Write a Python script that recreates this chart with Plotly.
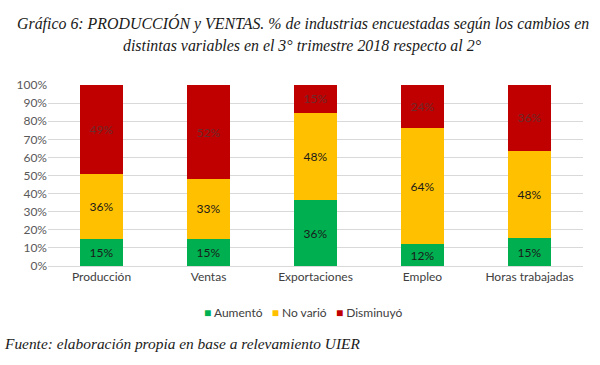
import plotly.graph_objects as go

categories = ["Producción", "Ventas", "Exportaciones", "Empleo", "Horas trabajadas"]
aumento = [15, 15, 36.4, 12, 15.3]
no_vario = [36, 33, 48.4, 64, 48.4]
disminuyo = [49, 52, 15.2, 24, 36.3]
y_ticks = [0, 10, 20, 30, 40, 50, 60, 70, 80, 90, 100]

series = [
    ("Aumentó", aumento, "#00B050", "#1a1a1a"),
    ("No varió", no_vario, "#FFC000", "#1a1a1a"),
    ("Disminuyó", disminuyo, "#C00000", "#6e2a2a"),
]

fig = go.Figure()
for name, vals, color, tcol in series:
    fig.add_trace(go.Bar(
        x=categories, y=vals, name=name,
        marker=dict(color=color, line=dict(width=0)),
        texttemplate="%{y:.0f}%", textposition="inside",
        insidetextanchor="middle",
        textfont=dict(family="Lato, sans-serif", size=12, color=tcol),
        hoverinfo="skip", showlegend=False,
    ))

fig.update_layout(
    barmode="stack", bargap=0.607,
    width=600, height=365,
    margin=dict(l=48, r=17, t=85, b=99),
    paper_bgcolor="white", plot_bgcolor="white",
    showlegend=False,
    font=dict(family="Lato, sans-serif", color="#595959"),
    uniformtext=dict(minsize=8, mode="show"),
)
fig.update_yaxes(range=[0, 100], tickvals=y_ticks, ticktext=[f"{v}%" for v in y_ticks],
                 showgrid=True, gridcolor="#D9D9D9", gridwidth=1, zeroline=False,
                 tickfont=dict(family="Lato, sans-serif", size=12, color="#595959"), ticks="", ticklen=0)
fig.update_xaxes(showline=True, linecolor="#D9D9D9",
                 tickfont=dict(family="Lato, sans-serif", size=12, color="#404040"))

title_x = (302.5 - 48) / 535
fig.add_annotation(text="<i>Gráfico 6: PRODUCCIÓN y VENTAS. % de industrias encuestadas según los cambios en</i>",
                   xref="paper", yref="paper", x=title_x, y=1, xanchor="center", yanchor="middle",
                   yshift=62, showarrow=False,
                   font=dict(family="Liberation Serif, serif", size=15.9, color="#1a1a1a"))
fig.add_annotation(text="<i>distintas variables en el 3° trimestre 2018 respecto al 2°</i>",
                   xref="paper", yref="paper", x=title_x, y=1, xanchor="center", yanchor="middle",
                   yshift=39, showarrow=False,
                   font=dict(family="Liberation Serif, serif", size=15.9, color="#1a1a1a"))
fig.add_annotation(text="<i>Fuente: elaboración propia en base a relevamiento UIER</i>",
                   xref="paper", yref="paper", x=0, y=0, xanchor="left", yanchor="middle",
                   xshift=-46, yshift=-77, showarrow=False,
                   font=dict(family="Liberation Serif, serif", size=15.4, color="#1a1a1a"))

legend_text = "&nbsp;&nbsp;&nbsp;".join(
    f"<span style='color:{c}'>■</span> {n}" for n, _, c, _ in series
)
fig.add_annotation(text=legend_text,
                   xref="paper", yref="paper", x=(303 - 48) / 535, y=0,
                   xanchor="center", yanchor="middle", yshift=-46, showarrow=False,
                   font=dict(family="Lato, sans-serif", size=12, color="#404040"))

fig.write_html("out.html", config={"displayModeBar": False},
               post_script="document.body.style.margin='0';")
